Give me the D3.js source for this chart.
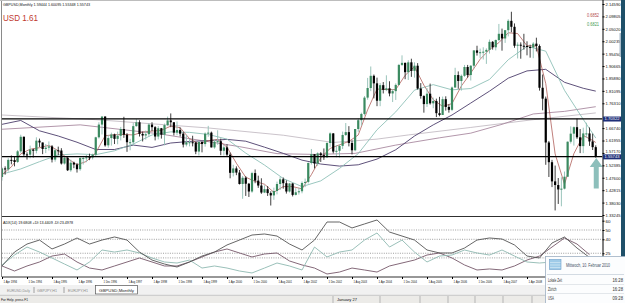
<!DOCTYPE html>
<html>
<head>
<meta charset="utf-8">
<script src="https://cdn.jsdelivr.net/npm/d3@7"></script>
<style>
body { margin: 0; background: #fff; }
svg { display: block; font-family: "Liberation Sans", Arial, sans-serif; }
</style>
</head>
<body>
<div id="chart"></div>
<script>
var svgWidth = 625;
var svgHeight = 303;

// GBPUSD monthly bars, Apr 1994 .. Feb 2010 (one row per year)
var opens = [
  1.479,1.512,1.508,1.545,1.544,1.537,1.578,1.634,1.566,
  1.565,1.585,1.580,1.619,1.612,1.587,1.592,1.597,1.546,1.582,1.581,1.531,
  1.553,1.505,1.534,1.527,1.509,1.552,1.552,1.555,1.554,1.565,1.632,1.681,
  1.712,1.601,1.629,1.643,1.626,1.638,1.664,1.642,1.613,1.613,1.675,1.690,
  1.645,1.639,1.644,1.681,1.671,1.635,1.667,1.642,1.679,1.697,1.690,1.650,
  1.660,1.646,1.604,1.613,1.613,1.612,1.577,1.614,1.606,1.646,1.650,1.593,
  1.615,1.617,1.580,1.593,1.565,1.495,1.512,1.496,1.452,1.476,1.453,1.423,
  1.494,1.465,1.446,1.419,1.432,1.417,1.408,1.425,1.452,1.470,1.455,1.423,
  1.454,1.410,1.420,1.424,1.456,1.460,1.533,1.567,1.531,1.570,1.563,1.555,
  1.610,1.647,1.577,1.580,1.599,1.641,1.652,1.610,1.582,1.664,1.698,1.722,
  1.785,1.822,1.869,1.840,1.773,1.833,1.815,1.821,1.801,1.810,1.834,1.911,
  1.919,1.883,1.921,1.888,1.908,1.820,1.791,1.760,1.800,1.763,1.772,1.725,
  1.718,1.779,1.749,1.738,1.824,1.872,1.849,1.869,1.903,1.872,1.908,1.967,
  1.958,1.960,1.962,1.969,2.000,1.979,2.007,2.031,2.013,2.045,2.081,2.058,
  1.985,1.989,1.985,1.984,1.980,1.978,1.993,1.984,1.823,1.781,1.612,1.536,
  1.462,1.448,1.431,1.434,1.480,1.615,1.646,1.671,1.632,1.598,1.647,1.647,
  1.616,1.594
];
var highs = [
  1.516,1.520,1.552,1.562,1.556,1.583,1.642,1.635,1.574,
  1.600,1.588,1.632,1.627,1.612,1.606,1.616,1.602,1.588,1.596,1.590,1.560,
  1.556,1.546,1.538,1.533,1.555,1.560,1.564,1.569,1.569,1.634,1.690,1.713,
  1.713,1.641,1.650,1.646,1.654,1.672,1.711,1.648,1.626,1.687,1.702,1.698,
  1.654,1.658,1.687,1.690,1.675,1.675,1.668,1.685,1.712,1.724,1.690,1.693,
  1.670,1.652,1.641,1.626,1.638,1.614,1.618,1.616,1.651,1.676,1.654,1.625,
  1.659,1.627,1.604,1.605,1.573,1.526,1.520,1.506,1.483,1.482,1.456,1.499,
  1.508,1.484,1.474,1.447,1.444,1.424,1.438,1.461,1.480,1.477,1.466,1.456,
  1.455,1.436,1.438,1.462,1.473,1.535,1.587,1.567,1.574,1.575,1.589,1.613,
  1.651,1.648,1.602,1.604,1.654,1.687,1.675,1.620,1.664,1.704,1.727,1.791,
  1.861,1.905,1.874,1.862,1.841,1.845,1.871,1.848,1.818,1.840,1.915,1.948,
  1.920,1.929,1.935,1.921,1.918,1.841,1.794,1.822,1.839,1.785,1.781,1.788,
  1.789,1.790,1.759,1.828,1.900,1.886,1.874,1.911,1.911,1.910,1.968,1.985,
  1.974,1.979,1.975,2.009,2.003,2.009,2.069,2.051,2.045,2.087,2.116,2.071,
  1.998,1.998,2.031,2.002,1.989,1.999,2.016,1.990,1.874,1.789,1.618,1.545,
  1.523,1.475,1.478,1.500,1.616,1.674,1.674,1.704,1.664,1.669,1.688,1.670,
  1.646,1.601
];
var lows = [
  1.465,1.488,1.500,1.528,1.520,1.533,1.572,1.560,1.546,
  1.551,1.554,1.570,1.595,1.567,1.571,1.581,1.535,1.538,1.563,1.527,1.527,
  1.502,1.499,1.513,1.496,1.503,1.527,1.536,1.544,1.547,1.560,1.627,1.643,
  1.596,1.592,1.600,1.606,1.605,1.620,1.630,1.576,1.582,1.600,1.673,1.635,
  1.616,1.623,1.634,1.656,1.620,1.624,1.627,1.601,1.675,1.671,1.639,1.640,
  1.635,1.593,1.597,1.597,1.597,1.567,1.562,1.574,1.596,1.634,1.593,1.588,
  1.603,1.563,1.562,1.557,1.474,1.481,1.486,1.450,1.395,1.406,1.402,1.418,
  1.455,1.437,1.414,1.417,1.406,1.369,1.391,1.412,1.429,1.434,1.415,1.419,
  1.404,1.408,1.411,1.416,1.440,1.454,1.527,1.512,1.522,1.537,1.545,1.552,
  1.595,1.570,1.555,1.554,1.587,1.637,1.597,1.566,1.578,1.653,1.677,1.716,
  1.777,1.810,1.782,1.752,1.752,1.801,1.810,1.790,1.768,1.776,1.832,1.907,
  1.856,1.853,1.865,1.862,1.816,1.781,1.727,1.749,1.758,1.744,1.710,1.713,
  1.718,1.735,1.727,1.733,1.823,1.819,1.812,1.865,1.862,1.851,1.898,1.947,
  1.937,1.932,1.915,1.955,1.970,1.967,2.003,1.966,1.996,2.021,2.037,1.977,
  1.936,1.935,1.970,1.948,1.939,1.937,1.963,1.812,1.736,1.526,1.479,1.440,
  1.350,1.375,1.366,1.431,1.479,1.608,1.600,1.626,1.571,1.571,1.630,1.599,
  1.583,1.553
];
var closes = [
  1.512,1.508,1.545,1.544,1.537,1.578,1.634,1.566,1.565,
  1.585,1.580,1.619,1.612,1.587,1.592,1.597,1.546,1.582,1.581,1.531,1.553,
  1.505,1.534,1.527,1.509,1.552,1.552,1.555,1.554,1.565,1.632,1.681,1.712,
  1.601,1.629,1.643,1.626,1.638,1.664,1.642,1.613,1.613,1.675,1.690,1.645,
  1.639,1.644,1.681,1.671,1.635,1.667,1.642,1.679,1.697,1.690,1.650,1.660,
  1.646,1.604,1.613,1.613,1.612,1.577,1.614,1.606,1.646,1.650,1.593,1.615,
  1.617,1.580,1.593,1.565,1.495,1.512,1.496,1.452,1.476,1.453,1.423,1.494,
  1.465,1.446,1.419,1.432,1.417,1.408,1.425,1.452,1.470,1.455,1.423,1.454,
  1.410,1.420,1.424,1.456,1.460,1.533,1.567,1.531,1.570,1.563,1.555,1.610,
  1.647,1.577,1.580,1.599,1.641,1.652,1.610,1.582,1.664,1.698,1.722,1.785,
  1.822,1.869,1.840,1.773,1.833,1.815,1.821,1.801,1.810,1.834,1.911,1.919,
  1.883,1.921,1.888,1.908,1.820,1.791,1.760,1.800,1.763,1.772,1.725,1.718,
  1.779,1.749,1.738,1.824,1.872,1.849,1.869,1.903,1.872,1.908,1.967,1.958,
  1.960,1.962,1.969,2.000,1.979,2.007,2.031,2.013,2.045,2.081,2.058,1.985,
  1.989,1.985,1.984,1.980,1.978,1.993,1.984,1.823,1.781,1.612,1.536,1.462,
  1.448,1.431,1.434,1.480,1.615,1.646,1.671,1.632,1.598,1.647,1.647,1.616,
  1.594,1.557
];

// moving averages
var maFast = [1.488,1.518,1.568,1.586,1.592,1.601,1.580,1.550,1.526,1.539,1.572,1.638,1.642,1.643,1.641,1.652,
  1.656,1.659,1.675,1.669,1.627,1.606,1.619,1.624,1.594,1.532,1.478,1.462,1.451,1.420,1.442,1.442,1.433,
  1.488,1.553,1.589,1.603,1.616,1.641,1.738,1.818,1.816,1.816,1.871,1.904,1.833,1.777,1.751,1.762,1.830,
  1.880,1.933,1.970,1.997,2.035,2.032,1.985,1.984,1.839,1.568,1.451,1.569,1.639,1.620,1.612];
var maFastIdx = d3.range(0, 190, 3).concat([190]);
var maMid = [1.490,1.510,1.538,1.564,1.568,1.565,1.580,1.606,1.641,1.653,1.651,1.643,1.625,1.571,1.525,1.473,
  1.442,1.464,1.512,1.569,1.661,1.730,1.814,1.835,1.815,1.820,1.855,1.931,1.983,1.964,1.813,1.701,1.629];
var maSlow = [1.682,1.697,1.657,1.637,1.613,1.585,1.585,1.602,1.593,1.610,1.616,1.619,1.624,1.617,1.594,1.570,
  1.544,1.529,1.521,1.526,1.548,1.584,1.637,1.680,1.718,1.764,1.810,1.860,1.888,1.894,1.844,1.821,1.810];
var maMidIdx = d3.range(0, 190, 6).concat([190]);
var maLongIdx = [0, 25, 50, 76, 88, 100, 113, 126, 140, 150, 160, 170, 180, 190];
var maLong = [1.663,1.680,1.646,1.596,1.569,1.566,1.570,1.602,1.630,1.648,1.682,1.722,1.732,1.750];
var maVeryLongIdx = [0, 30, 66, 90, 106, 120, 130, 150, 170, 190];
var maVeryLong = [1.718,1.700,1.668,1.640,1.612,1.625,1.641,1.670,1.700,1.726];

// ADX(14) panel, every 4th bar
var adxIdx = d3.range(0, 189, 4);
var adxMain = [11.3,26.3,34.9,39.2,29.6,34.9,41.4,34.9,39.2,42.5,39.2,26.3,17.7,13.4,10.2,15.6,22.0,26.3,33.9,39.2,
  44.6,45.7,43.5,34.9,28.5,39.2,58.6,58.6,52.2,56.5,60.8,47.8,43.5,39.2,28.5,25.3,25.3,30.6,39.2,41.4,
  40.3,33.9,22.0,19.9,36.0,42.5,30.6,20.5];
var plusDI = [12.4,23.1,31.7,26.3,19.9,13.4,7.0,15.6,28.5,26.3,28.5,25.3,19.9,15.6,14.5,17.7,9.1,11.3,9.1,5.9,
  3.8,9.1,14.5,11.3,7.0,31.7,21.0,26.3,28.5,39.2,46.8,31.7,39.2,26.3,15.6,22.0,23.1,28.5,25.3,23.1,
  28.5,22.0,15.6,14.5,15.6,12.4,15.6,14.0];
var minusDI = [11.3,5.9,11.3,15.6,22.0,24.2,15.6,9.1,7.0,11.3,15.6,19.9,15.6,11.3,11.3,15.6,21.0,26.3,29.6,25.3,
  21.0,24.2,25.3,16.7,12.4,9.1,2.7,4.8,9.1,7.0,4.8,11.3,14.5,17.7,23.1,25.3,19.9,12.4,7.0,8.1,
  7.0,11.3,17.7,22.0,31.7,41.4,34.9,23.5];
var adxLevels = [50, 40, 25, 20];
var adxTicks = [60, 50, 40, 25];

var priceTicks = [1.33245,1.38030,1.42815,1.47600,1.52385,1.57170,1.61955,1.66740,1.76310,1.81095,
  1.85880,1.90665,1.95450,2.00235,2.05020,2.09805,2.14590];
var hLines = [1.70322, 1.55743];

// date labels left of the clock popup
var dateTickIdx = d3.range(0, 176, 8);
var dateLabels = ["1 Apr 1994","1 Dec 1994","1 Aug 1995","1 Apr 1996","1 Dec 1996","1 Aug 1997",
  "1 Apr 1998","1 Dec 1998","1 Aug 1999","1 Apr 2000","1 Dec 2000","1 Aug 2001","1 Apr 2002",
  "1 Dec 2002","1 Aug 2003","1 Apr 2004","1 Dec 2004","1 Aug 2005","1 Apr 2006","1 Dec 2006",
  "1 Aug 2007","1 Apr 2008"];

var tabs = ["EURUSD,Daily", "GBPJPY,H1", "EURJPY,H1", "GBPUSD,Monthly"];

var svg = d3.select("#chart")
  .append("svg")
  .attr("width", svgWidth)
  .attr("height", svgHeight);

var plotRight = 602.5;

// scales
var x = d3.scaleLinear().domain([0, 190]).range([2, 595.75]);
var y = d3.scaleLinear().domain([1.33245, 2.14590]).range([215, 4]);
var adxY = d3.scaleLinear().domain([0, 60]).range([276.5, 220.7]);

svg.append("defs").append("clipPath").attr("id", "main-clip")
  .append("rect").attr("x", 2).attr("y", 1).attr("width", plotRight - 2).attr("height", 215);
svg.select("defs").append("clipPath").attr("id", "adx-clip")
  .append("rect").attr("x", 2).attr("y", 218).attr("width", plotRight - 2).attr("height", 59);

// frame
svg.append("line").attr("x1", 0).attr("x2", svgWidth).attr("y1", 0.5).attr("y2", 0.5)
  .attr("stroke", "#bdbdbd");
svg.append("line").attr("x1", 1.5).attr("x2", 1.5).attr("y1", 1).attr("y2", 277)
  .attr("stroke", "#8a8a8a");
svg.append("line").attr("x1", 2).attr("x2", plotRight).attr("y1", 216.5).attr("y2", 216.5)
  .attr("stroke", "#303030");
svg.append("line").attr("x1", 2).attr("x2", plotRight).attr("y1", 277).attr("y2", 277)
  .attr("stroke", "#303030");

var main = svg.append("g").attr("clip-path", "url(#main-clip)");

var line = d3.line().x(d => x(d[0])).y(d => y(d[1]));
var maSets = [
  {idx: maVeryLongIdx, vals: maVeryLong, color: "#c4bcc4", w: 0.9},
  {idx: maLongIdx, vals: maLong, color: "#a98aa0", w: 0.9},
  {idx: maMidIdx, vals: maSlow, color: "#4c3d6b", w: 0.9},
  {idx: maMidIdx, vals: maMid, color: "#8fc1b8", w: 0.9},
  {idx: maFastIdx, vals: maFast, color: "#b0605a", w: 0.8}
];
maSets.forEach(function(m) {
  main.append("path")
    .datum(m.vals.map((v, i) => [m.idx[i], v]))
    .attr("d", line)
    .attr("fill", "none")
    .attr("stroke", m.color)
    .attr("stroke-width", m.w);
});

// candles
var bars = closes.map(function(c, i) {
  return {i: i, o: opens[i], h: highs[i], l: lows[i], c: c, up: c >= opens[i]};
});

main.selectAll(".wick")
  .data(bars)
  .enter()
  .append("line")
  .attr("x1", d => x(d.i))
  .attr("x2", d => x(d.i))
  .attr("y1", d => y(d.h))
  .attr("y2", d => y(d.l))
  .attr("stroke", d => d.up ? "#8fbdb3" : "#2a2a2a")
  .attr("stroke-width", 0.9);

main.selectAll(".body")
  .data(bars)
  .enter()
  .append("rect")
  .attr("x", d => x(d.i) - 1.1)
  .attr("width", 2.2)
  .attr("y", d => y(Math.max(d.o, d.c)))
  .attr("height", d => Math.max(1, Math.abs(y(d.o) - y(d.c))))
  .attr("fill", d => d.up ? "#3b8a60" : "#000");

// horizontal lines
main.selectAll(".hline")
  .data(hLines)
  .enter()
  .append("line")
  .attr("x1", 2).attr("x2", plotRight)
  .attr("y1", d => y(d)).attr("y2", d => y(d))
  .attr("stroke", "#000").attr("stroke-width", 1.2);

// arrow under the last bar
var ax = x(190) + 0.5;
main.append("path")
  .attr("d", `M${ax},${158} L${ax + 6.5},${167} L${ax + 2.5},${167} L${ax + 2.5},${188.5} L${ax - 2.5},${188.5} L${ax - 2.5},${167} L${ax - 6.5},${167} Z`)
  .attr("fill", "#8dbfbb");

// price axis
var priceAxis = svg.append("g")
  .attr("transform", `translate(${plotRight}, 0)`)
  .call(d3.axisRight(y).tickValues(priceTicks).tickFormat(d3.format(".5f")).tickSize(2).tickPadding(1));
priceAxis.select(".domain").attr("stroke", "#000").attr("d", "M0.5,0V277");
priceAxis.selectAll("text")
  .attr("font-size", 4.4).attr("fill", "#111")
  .attr("dy", d => d === 1.57170 ? "-0.1em" : "0.32em")
  .attr("textLength", 15).attr("lengthAdjust", "spacingAndGlyphs");
priceAxis.selectAll("line").attr("stroke", "#000");

// line value boxes
var boxes = svg.selectAll(".box")
  .data(hLines)
  .enter()
  .append("g")
  .attr("transform", d => `translate(${plotRight + 0.5}, ${y(d)})`);
boxes.append("rect").attr("x", 0).attr("y", -2.3).attr("width", 18).attr("height", 5)
  .attr("fill", "#1f2f78");
boxes.append("text").attr("x", 1.5).attr("y", 1.6)
  .attr("font-size", 4.2).attr("fill", "#fff")
  .attr("textLength", 15).attr("lengthAdjust", "spacingAndGlyphs")
  .text(d => d3.format(".5f")(d));

// ADX panel
var adxG = svg.append("g").attr("clip-path", "url(#adx-clip)");
adxG.selectAll(".lvl")
  .data(adxLevels)
  .enter()
  .append("line")
  .attr("x1", 2).attr("x2", plotRight)
  .attr("y1", d => adxY(d)).attr("y2", d => adxY(d))
  .attr("stroke", "#777").attr("stroke-width", 0.7).attr("stroke-dasharray", "1,1.3");

var adxLine = d3.line().x(d => x(d[0])).y(d => adxY(d[1]));
[[minusDI, "#76586a"], [plusDI, "#8fb9b1"], [adxMain, "#555555"]].forEach(function(s) {
  adxG.append("path")
    .datum(s[0].map((v, i) => [adxIdx[i], v]))
    .attr("d", adxLine)
    .attr("fill", "none")
    .attr("stroke", s[1])
    .attr("stroke-width", 0.9);
});

var adxAxis = svg.append("g")
  .attr("transform", `translate(${plotRight}, 0)`)
  .call(d3.axisRight(adxY).tickValues(adxTicks).tickSize(2).tickPadding(1));
adxAxis.select(".domain").remove();
adxAxis.selectAll("text").attr("font-size", 4.4).attr("fill", "#111")
  .attr("textLength", 5).attr("lengthAdjust", "spacingAndGlyphs");
adxAxis.selectAll("line").attr("stroke", "#000");

svg.append("text").attr("x", 3).attr("y", 223.5)
  .attr("font-size", 4.4).attr("fill", "#111")
  .attr("textLength", 70).attr("lengthAdjust", "spacingAndGlyphs")
  .text("ADX(14) 19.6808 +DI:13.4409 -DI:23.4978");

// date axis
var dateAxis = svg.append("g")
  .attr("transform", "translate(0, 277)")
  .call(d3.axisBottom(x).tickValues(dateTickIdx).tickFormat((d, i) => dateLabels[i]).tickSize(2).tickPadding(1));
dateAxis.select(".domain").remove();
dateAxis.selectAll("line").attr("stroke", "#000");
dateAxis.selectAll("text")
  .attr("text-anchor", "start").attr("dx", 1).attr("dy", 0).attr("y", 6.3)
  .attr("font-size", 4.4).attr("fill", "#111")
  .attr("textLength", 13.5).attr("lengthAdjust", "spacingAndGlyphs");

// header texts
svg.append("text").attr("x", 3).attr("y", 6)
  .attr("font-size", 4.4).attr("fill", "#111")
  .attr("textLength", 87).attr("lengthAdjust", "spacingAndGlyphs")
  .text("GBPUSD,Monthly  1.59444 1.60095 1.55348 1.55743");
svg.append("text").attr("x", 3).attr("y", 20.8)
  .attr("font-size", 9.5).attr("fill", "#c0392f")
  .attr("textLength", 35).attr("lengthAdjust", "spacingAndGlyphs")
  .text("USD  1.61");
svg.append("text").attr("x", 599).attr("y", 16.5).attr("text-anchor", "end")
  .attr("font-size", 4.6).attr("fill", "#b54a4a")
  .attr("textLength", 12).attr("lengthAdjust", "spacingAndGlyphs")
  .text("0.6852");
svg.append("text").attr("x", 599).attr("y", 26).attr("text-anchor", "end")
  .attr("font-size", 4.6).attr("fill", "#3f9a4f")
  .attr("textLength", 12).attr("lengthAdjust", "spacingAndGlyphs")
  .text("0.6821");

// right desktop strip
svg.append("rect").attr("x", 621).attr("y", 0).attr("width", 4).attr("height", 257).attr("fill", "#1f5069");
svg.append("rect").attr("x", 619.5).attr("y", 33).attr("width", 1.5).attr("height", 24).attr("fill", "#a9bccb");

// tab bar
svg.append("rect").attr("x", 0).attr("y", 285).attr("width", svgWidth).attr("height", 10).attr("fill", "#f1f1f1");
var tabX = [7, 37, 68, 99];
var tabW = [23, 20, 20, 35];
svg.append("rect").attr("x", 95.5).attr("y", 285.5).attr("width", 42).attr("height", 8.5)
  .attr("fill", "#fff").attr("stroke", "#555").attr("stroke-width", 0.7);
[34, 64].forEach(function(sx) {
  svg.append("line").attr("x1", sx).attr("x2", sx).attr("y1", 287).attr("y2", 293).attr("stroke", "#a0a0a0");
});
svg.selectAll(".tab")
  .data(tabs)
  .enter()
  .append("text")
  .attr("x", (d, i) => tabX[i]).attr("y", 291.8)
  .attr("font-size", 4.4)
  .attr("fill", (d, i) => i === 3 ? "#222" : "#8a8a8a")
  .attr("textLength", (d, i) => tabW[i]).attr("lengthAdjust", "spacingAndGlyphs")
  .text(d => d);

// status bar
svg.append("rect").attr("x", 0).attr("y", 295).attr("width", svgWidth).attr("height", 8).attr("fill", "#ecebe8");
svg.append("line").attr("x1", 0).attr("x2", svgWidth).attr("y1", 295.3).attr("y2", 295.3).attr("stroke", "#c9c9c9");
svg.append("text").attr("x", 1).attr("y", 301)
  .attr("font-size", 4.4).attr("fill", "#111")
  .attr("textLength", 27).attr("lengthAdjust", "spacingAndGlyphs")
  .text("For Help, press F1");
svg.append("text").attr("x", 337).attr("y", 301)
  .attr("font-size", 4.4).attr("fill", "#111")
  .attr("textLength", 20).attr("lengthAdjust", "spacingAndGlyphs")
  .text("January 27");
[333, 380, 420, 448, 475, 503, 532].forEach(function(sx) {
  svg.append("line").attr("x1", sx).attr("x2", sx).attr("y1", 296).attr("y2", 303).attr("stroke", "#b5b5b5");
});

// clock popup
var pop = svg.append("g");
pop.append("rect").attr("x", 545.5).attr("y", 256.5).attr("width", 80).attr("height", 47)
  .attr("fill", "#fcfdfe").attr("stroke", "#9fb0c2").attr("stroke-width", 0.8);
pop.append("rect").attr("x", 549.5).attr("y", 259.5).attr("width", 11.5).attr("height", 10)
  .attr("fill", "#9fcbe8").attr("stroke", "#6d9fca").attr("stroke-width", 0.6);
[262.5, 265, 267.5].forEach(function(gy) {
  pop.append("line").attr("x1", 550).attr("x2", 560.5).attr("y1", gy).attr("y2", gy)
    .attr("stroke", "#e8f4fb").attr("stroke-width", 0.5);
});
pop.append("text").attr("x", 566).attr("y", 266.8)
  .attr("font-size", 4.6).attr("fill", "#3e4d63")
  .attr("textLength", 44).attr("lengthAdjust", "spacingAndGlyphs")
  .text("Mittwoch, 10. Februar 2010");
pop.append("line").attr("x1", 547).attr("x2", 624).attr("y1", 274.5).attr("y2", 274.5).attr("stroke", "#d3dbe3");
var clockRows = ["Lokale Zeit", "Zürich", "USA"];
var clockTimes = ["16:28", "16:28", "09:28"];
var rowY = [281.5, 290.5, 299.5];
var rowW = [14, 8.5, 6];
pop.selectAll(".crow")
  .data(clockRows)
  .enter()
  .append("text")
  .attr("x", 548).attr("y", (d, i) => rowY[i])
  .attr("font-size", 4.6).attr("fill", "#333")
  .attr("textLength", (d, i) => rowW[i]).attr("lengthAdjust", "spacingAndGlyphs")
  .text(d => d);
pop.selectAll(".ctime")
  .data(clockTimes)
  .enter()
  .append("text")
  .attr("x", 623).attr("y", (d, i) => rowY[i]).attr("text-anchor", "end")
  .attr("font-size", 4.6).attr("fill", "#333")
  .attr("textLength", 10.5).attr("lengthAdjust", "spacingAndGlyphs")
  .text(d => d);
[284.5, 293.5].forEach(function(ly) {
  pop.append("line").attr("x1", 547).attr("x2", 624).attr("y1", ly).attr("y2", ly).attr("stroke", "#e3e7eb");
});
</script>
</body>
</html>
